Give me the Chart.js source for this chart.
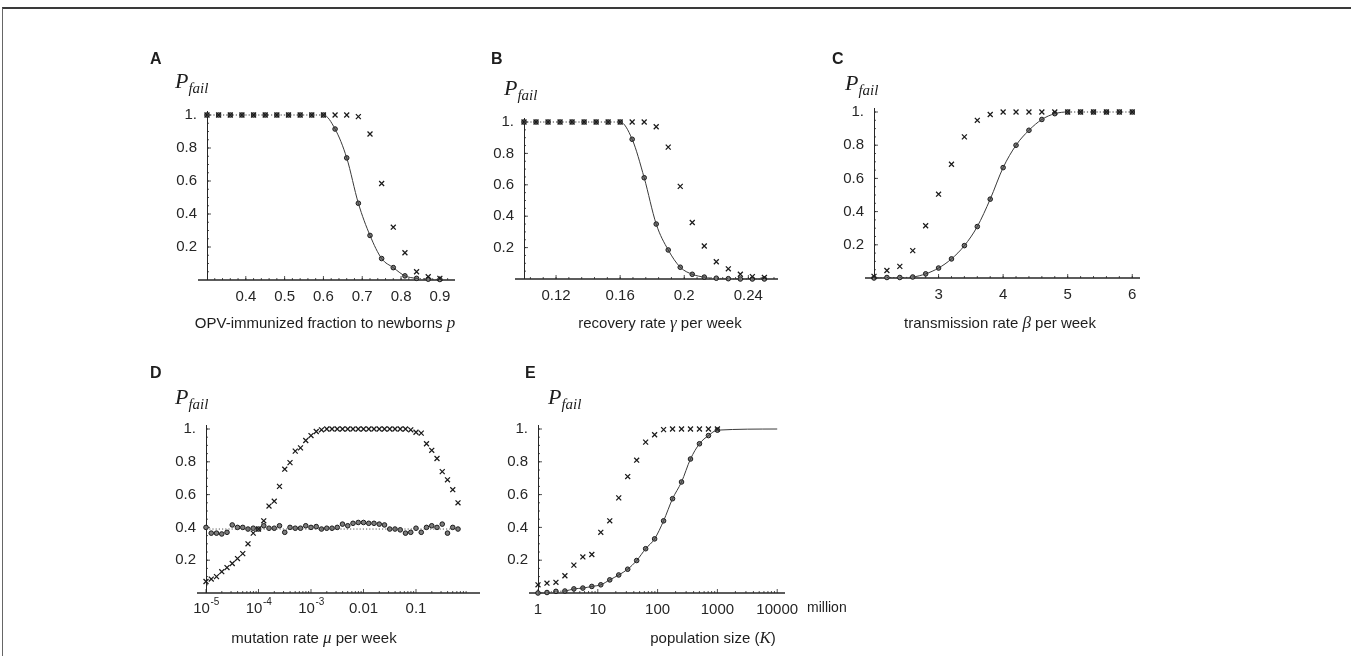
<!DOCTYPE html>
<html>
<head>
<meta charset="utf-8">
<script src="https://cdn.jsdelivr.net/npm/chart.js@4.4.0/dist/chart.umd.min.js"></script>
<style>
    body { margin: 0; width: 1351px; height: 656px; overflow: hidden; position: relative; background: #fff;
           font-family: "Liberation Sans", Arial, sans-serif; color: #1e1e1e; }
    canvas.couche { position: absolute; left: 0; top: 0; }
    .cadre { position: absolute; left: 2px; top: 7px; right: 0; bottom: 0; border-top: 2px solid #3a3a3a; border-left: 1px solid #666; }
    .lettre { position: absolute; font-weight: bold; font-size: 16px; line-height: 1; }
    .pfail { position: absolute; font-family: "Liberation Serif", "Times New Roman", serif; font-style: italic; font-size: 22px; line-height: 1; white-space: nowrap; }
    .pfail sub { font-size: 15px; vertical-align: -5px; }
    .titre { position: absolute; font-size: 15px; line-height: 1; white-space: nowrap; transform: translateX(-50%); }
    .titre i { font-family: "Liberation Serif", "Times New Roman", serif; font-size: 17px; }
    .unite { position: absolute; font-size: 14px; line-height: 1; }
</style>
</head>
<body>
<div class="cadre"></div>

<canvas class="couche" id="chartA" width="1351" height="656"></canvas>
<canvas class="couche" id="chartB" width="1351" height="656"></canvas>
<canvas class="couche" id="chartC" width="1351" height="656"></canvas>
<canvas class="couche" id="chartD" width="1351" height="656"></canvas>
<canvas class="couche" id="chartE" width="1351" height="656"></canvas>

<div class="lettre" style="left:150px;top:51px">A</div>
<div class="lettre" style="left:491px;top:51px">B</div>
<div class="lettre" style="left:832px;top:51px">C</div>
<div class="lettre" style="left:150px;top:365px">D</div>
<div class="lettre" style="left:525px;top:365px">E</div>

<div class="pfail" style="left:175px;top:70px"><i>P</i><sub>fail</sub></div>
<div class="pfail" style="left:504px;top:77px"><i>P</i><sub>fail</sub></div>
<div class="pfail" style="left:845px;top:72px"><i>P</i><sub>fail</sub></div>
<div class="pfail" style="left:175px;top:386px"><i>P</i><sub>fail</sub></div>
<div class="pfail" style="left:548px;top:386px"><i>P</i><sub>fail</sub></div>

<div class="titre" style="left:325px;top:314px">OPV-immunized fraction to newborns <i>p</i></div>
<div class="titre" style="left:660px;top:314px">recovery rate <i>γ</i> per week</div>
<div class="titre" style="left:1000px;top:314px">transmission rate <i>β</i> per week</div>
<div class="titre" style="left:314px;top:629px">mutation rate <i>μ</i> per week</div>
<div class="titre" style="left:713px;top:629px">population size (<i>K</i>)</div>
<div class="unite" style="left:807px;top:600px">million</div>

<script>
// A : fraction immunisée p
const xA = [0.30, 0.33, 0.36, 0.39, 0.42, 0.45, 0.48, 0.51, 0.54, 0.57, 0.60, 0.63, 0.66, 0.69, 0.72, 0.75, 0.78, 0.81, 0.84, 0.87, 0.90];
const cerclesA = [1, 1, 1, 1, 1, 1, 1, 1, 1, 1, 1, 0.915, 0.74, 0.465, 0.27, 0.13, 0.075, 0.025, 0.01, 0.005, 0.003];
const croixA = [1, 1, 1, 1, 1, 1, 1, 1, 1, 1, 1, 1, 1, 0.99, 0.885, 0.585, 0.32, 0.165, 0.05, 0.02, 0.01];
const ticksXA = [0.4, 0.5, 0.6, 0.7, 0.8, 0.9];
const labelsXA = ['0.4', '0.5', '0.6', '0.7', '0.8', '0.9'];

// B : taux de guérison gamma
const xB = [0.1, 0.1075, 0.115, 0.1225, 0.13, 0.1375, 0.145, 0.1525, 0.16, 0.1675, 0.175, 0.1825, 0.19, 0.1975, 0.205, 0.2125, 0.22, 0.2275, 0.235, 0.2425, 0.25];
const cerclesB = [1, 1, 1, 1, 1, 1, 1, 1, 1, 0.89, 0.645, 0.35, 0.185, 0.075, 0.03, 0.012, 0.005, 0.002, 0, 0, 0];
const croixB = [1, 1, 1, 1, 1, 1, 1, 1, 1, 1, 1, 0.97, 0.84, 0.59, 0.36, 0.21, 0.11, 0.065, 0.03, 0.015, 0.01];
const ticksXB = [0.12, 0.16, 0.2, 0.24];
const labelsXB = ['0.12', '0.16', '0.2', '0.24'];

// C : taux de transmission beta
const xC = [2.0, 2.2, 2.4, 2.6, 2.8, 3.0, 3.2, 3.4, 3.6, 3.8, 4.0, 4.2, 4.4, 4.6, 4.8, 5.0, 5.2, 5.4, 5.6, 5.8, 6.0];
const cerclesC = [0, 0.003, 0.003, 0.006, 0.025, 0.06, 0.115, 0.195, 0.31, 0.475, 0.665, 0.8, 0.89, 0.955, 0.99, 1, 1, 1, 1, 1, 1];
const croixC = [0.01, 0.045, 0.07, 0.165, 0.315, 0.505, 0.685, 0.85, 0.95, 0.985, 1, 1, 1, 1, 1, 1, 1, 1, 1, 1, 1];
const ticksXC = [3, 4, 5, 6];
const labelsXC = ['3', '4', '5', '6'];

// D : taux de mutation mu (exposants log10)
const logMuD = [-5.0, -4.9, -4.8, -4.7, -4.6, -4.5, -4.4, -4.3, -4.2, -4.1, -4.0, -3.9, -3.8, -3.7, -3.6, -3.5, -3.4,
    -3.3, -3.2, -3.1, -3.0, -2.9, -2.8, -2.7, -2.6, -2.5, -2.4, -2.3, -2.2, -2.1, -2.0, -1.9, -1.8, -1.7,
    -1.6, -1.5, -1.4, -1.3, -1.2, -1.1, -1.0, -0.9, -0.8, -0.7, -0.6, -0.5, -0.4, -0.3, -0.2];
const croixD = [0.07, 0.085, 0.10, 0.13, 0.155, 0.18, 0.21, 0.24, 0.30, 0.365, 0.39, 0.44, 0.53, 0.56, 0.65, 0.755, 0.795,
    0.865, 0.885, 0.93, 0.96, 0.985, 0.995, 1, 1, 1, 1, 1, 1, 1, 1, 1, 1, 1,
    1, 1, 1, 1, 1, 0.995, 0.98, 0.975, 0.91, 0.87, 0.82, 0.74, 0.69, 0.63, 0.55];
const cerclesD = [0.40, 0.365, 0.365, 0.36, 0.37, 0.415, 0.40, 0.40, 0.39, 0.395, 0.39, 0.41, 0.395, 0.395, 0.41, 0.37, 0.40,
    0.395, 0.395, 0.41, 0.40, 0.405, 0.39, 0.395, 0.395, 0.40, 0.42, 0.41, 0.425, 0.43, 0.43, 0.425, 0.425, 0.42,
    0.415, 0.39, 0.39, 0.385, 0.365, 0.37, 0.395, 0.37, 0.40, 0.41, 0.40, 0.42, 0.365, 0.40, 0.39];
const niveauD = 0.39;
const ticksXD = [1e-5, 1e-4, 1e-3, 0.01, 0.1];
// base et exposant séparés pour dessiner un vrai exposant
const basesXD = ['10', '10', '10', '0.01', '0.1'];
const exposantsXD = ['-5', '-4', '-3', '', ''];

// E : taille de population K (exposants log10, en millions)
const logKE = [0, 0.15, 0.3, 0.45, 0.6, 0.75, 0.9, 1.05, 1.2, 1.35, 1.5, 1.65, 1.8, 1.95, 2.1, 2.25, 2.4, 2.55, 2.7, 2.85, 3.0];
const cerclesE = [0, 0.003, 0.01, 0.012, 0.025, 0.03, 0.04, 0.05, 0.08, 0.11, 0.145, 0.198, 0.27, 0.33, 0.44, 0.575, 0.677, 0.817, 0.91, 0.96, 0.993];
const croixE = [0.05, 0.06, 0.065, 0.105, 0.17, 0.22, 0.235, 0.37, 0.44, 0.58, 0.71, 0.81, 0.92, 0.965, 0.996, 1, 1, 1, 1, 1, 1];
const finCourbeE = [{ logK: 4.0, p: 1 }];
const ticksXE = [1, 10, 100, 1000, 10000];
const labelsXE = ['1', '10', '100', '1000', '10000'];

const ticksY = [0.2, 0.4, 0.6, 0.8, 1.0];
const labelsY = ['0.2', '0.4', '0.6', '0.8', '1.'];

const LARGEUR = 1351, HAUTEUR = 656;
const LARG_Y = 40, HAUT_X = 30;
const encre = '#262626';
const famille = '"Liberation Sans", Arial, sans-serif';
const policeTicks = { family: famille, size: 15 };

function points(xs, ys) {
    return xs.map((x, i) => ({ x: x, y: ys[i] }));
}

function jeuCercles(xs, ys) {
    return { data: points(xs, ys), showLine: false, pointStyle: 'circle', pointRadius: 2.3,
        backgroundColor: '#7d7d7d', borderColor: '#1a1a1a', borderWidth: 1, clip: false };
}

function jeuCroix(xs, ys) {
    return { data: points(xs, ys), showLine: false, pointStyle: 'crossRot', pointRadius: 3.5,
        borderColor: '#1a1a1a', borderWidth: 1.25, clip: false };
}

function jeuCourbe(xs, ys) {
    const plat = c => (c.p0.parsed.y > 0.994 && c.p1.parsed.y > 0.994) || (c.p0.parsed.y < 0.015 && c.p1.parsed.y < 0.015);
    return { data: points(xs, ys), showLine: true, pointRadius: 0, borderColor: '#3a3a3a', borderWidth: 1,
        cubicInterpolationMode: 'monotone', clip: false,
        segment: { borderDash: c => plat(c) ? [1.2, 2] : undefined } };
}

// petits traits vers l'intérieur, comme dans Mathematica
function graduationsLin(debut, fin, pas) {
    const res = [];
    for (let v = debut; v <= fin + 1e-9; v += pas) res.push(Math.round(v * 1e6) / 1e6);
    return res;
}
function graduationsLog(e0, e1) {
    const res = [];
    for (let e = e0; e < e1; e++) for (let m = 2; m <= 9; m++) res.push(m * Math.pow(10, e));
    return res;
}

const traitsAxes = {
    id: 'traitsAxes',
    beforeDatasetsDraw(chart, args, o) {
        const ctx = chart.ctx;
        const sx = chart.scales.x, sy = chart.scales.y;
        const x0 = sx.getPixelForValue(o.origineX);
        const y0 = sy.getPixelForValue(0);
        const yHaut = sy.getPixelForValue(1) - 4;
        ctx.save();
        ctx.strokeStyle = encre;
        ctx.lineWidth = 1.6;
        ctx.beginPath();
        ctx.moveTo(x0 - 9, y0);
        ctx.lineTo(sx.right, y0);
        ctx.stroke();
        ctx.lineWidth = 1;
        ctx.beginPath();
        ctx.moveTo(x0 + 0.5, y0);
        ctx.lineTo(x0 + 0.5, yHaut);
        ctx.stroke();
        ctx.beginPath();
        ctx.lineWidth = 0.8;
        o.majeursX.forEach(v => { const p = sx.getPixelForValue(v); ctx.moveTo(p, y0); ctx.lineTo(p, y0 - 4); });
        o.mineursX.forEach(v => {
            const p = sx.getPixelForValue(v);
            if (p > x0 + 1 && p <= sx.right) { ctx.moveTo(p, y0); ctx.lineTo(p, y0 - 2); }
        });
        ticksY.forEach(v => { const p = sy.getPixelForValue(v); ctx.moveTo(x0, p); ctx.lineTo(x0 + 4, p); });
        graduationsLin(0.05, 1, 0.05).forEach(v => { const p = sy.getPixelForValue(v); ctx.moveTo(x0, p); ctx.lineTo(x0 + 2, p); });
        ctx.stroke();

        // étiquettes avec exposant (panneau D)
        if (o.exposants) {
            ctx.fillStyle = encre;
            ctx.textBaseline = 'top';
            o.majeursX.forEach((v, i) => {
                const p = sx.getPixelForValue(v);
                const base = o.bases[i], expo = o.exposants[i];
                ctx.font = '15px ' + famille;
                const lb = ctx.measureText(base).width;
                ctx.font = '10px ' + famille;
                const le = ctx.measureText(expo).width;
                const debut = p - (lb + le) / 2;
                ctx.font = '15px ' + famille;
                ctx.textAlign = 'left';
                ctx.fillText(base, debut, y0 + 8);
                ctx.font = '10px ' + famille;
                ctx.fillText(expo, debut + lb + 0.5, y0 + 4);
            });
        }
        ctx.restore();
    }
};

function creerPanneau(canvasId, cfg) {
    const zone = cfg.zone;
    return new Chart(document.getElementById(canvasId), {
        type: 'scatter',
        data: { datasets: cfg.jeux },
        options: {
            responsive: false,
            animation: false,
            events: [],
            layout: {
                padding: {
                    left: zone.gauche - LARG_Y,
                    top: zone.haut,
                    right: LARGEUR - zone.droite,
                    bottom: HAUTEUR - zone.bas - HAUT_X
                }
            },
            plugins: {
                legend: { display: false },
                tooltip: { enabled: false },
                traitsAxes: { origineX: cfg.xMin, majeursX: cfg.ticksX, mineursX: cfg.mineursX,
                    bases: cfg.bases, exposants: cfg.exposants }
            },
            scales: {
                x: {
                    type: cfg.typeX,
                    min: cfg.xMin,
                    max: cfg.xMax,
                    afterFit: s => { s.height = HAUT_X; },
                    afterBuildTicks: s => { s.ticks = cfg.ticksX.map(v => ({ value: v })); },
                    ticks: { display: !cfg.exposants, callback: (v, i) => cfg.labelsX ? cfg.labelsX[i] : '',
                        font: policeTicks, color: encre, padding: 8, maxRotation: 0, autoSkip: false },
                    grid: { display: false, drawTicks: false },
                    border: { display: false }
                },
                y: {
                    type: 'linear',
                    min: 0,
                    max: 1,
                    afterFit: s => { s.width = LARG_Y; },
                    afterBuildTicks: s => { s.ticks = ticksY.map(v => ({ value: v })); },
                    ticks: { callback: (v, i) => labelsY[i], font: policeTicks, color: encre, padding: 10 },
                    grid: { display: false, drawTicks: false },
                    border: { display: false }
                }
            }
        },
        plugins: [traitsAxes]
    });
}

const muD = logMuD.map(e => Math.pow(10, e));
const kE = logKE.map(e => Math.pow(10, e));

creerPanneau('chartA', {
    zone: { gauche: 207, droite: 455, haut: 115, bas: 280 },
    typeX: 'linear', xMin: 0.3, xMax: 0.939,
    ticksX: ticksXA, labelsX: labelsXA, mineursX: graduationsLin(0.32, 0.92, 0.02),
    jeux: [jeuCourbe(xA, cerclesA), jeuCroix(xA, croixA), jeuCercles(xA, cerclesA)]
});

creerPanneau('chartB', {
    zone: { gauche: 524, droite: 778, haut: 122, bas: 279 },
    typeX: 'linear', xMin: 0.1, xMax: 0.2585,
    ticksX: ticksXB, labelsX: labelsXB, mineursX: graduationsLin(0.104, 0.256, 0.008),
    jeux: [jeuCourbe(xB, cerclesB), jeuCroix(xB, croixB), jeuCercles(xB, cerclesB)]
});

creerPanneau('chartC', {
    zone: { gauche: 874, droite: 1140, haut: 112, bas: 278 },
    typeX: 'linear', xMin: 2, xMax: 6.12,
    ticksX: ticksXC, labelsX: labelsXC, mineursX: graduationsLin(2.2, 6, 0.2),
    jeux: [jeuCourbe(xC, cerclesC), jeuCroix(xC, croixC), jeuCercles(xC, cerclesC)]
});

const ligneD = { data: [{ x: muD[0], y: niveauD }, { x: muD[muD.length - 1], y: niveauD }], showLine: true,
    pointRadius: 0, borderColor: '#555', borderWidth: 1, borderDash: [1.2, 2], clip: false };

creerPanneau('chartD', {
    zone: { gauche: 206, droite: 480, haut: 429, bas: 593 },
    typeX: 'logarithmic', xMin: 1e-5, xMax: 1.656,
    ticksX: ticksXD, bases: basesXD, exposants: exposantsXD, mineursX: graduationsLog(-5, 1),
    jeux: [ligneD, jeuCroix(muD, croixD), jeuCercles(muD, cerclesD)]
});

const courbeEx = kE.concat(finCourbeE.map(f => Math.pow(10, f.logK)));
const courbeEy = cerclesE.concat(finCourbeE.map(f => f.p));

creerPanneau('chartE', {
    zone: { gauche: 538, droite: 785, haut: 429, bas: 593 },
    typeX: 'logarithmic', xMin: 1, xMax: 13500,
    ticksX: ticksXE, labelsX: labelsXE, mineursX: graduationsLog(0, 5),
    jeux: [jeuCourbe(courbeEx, courbeEy), jeuCroix(kE, croixE), jeuCercles(kE, cerclesE)]
});
</script>
</body>
</html>
